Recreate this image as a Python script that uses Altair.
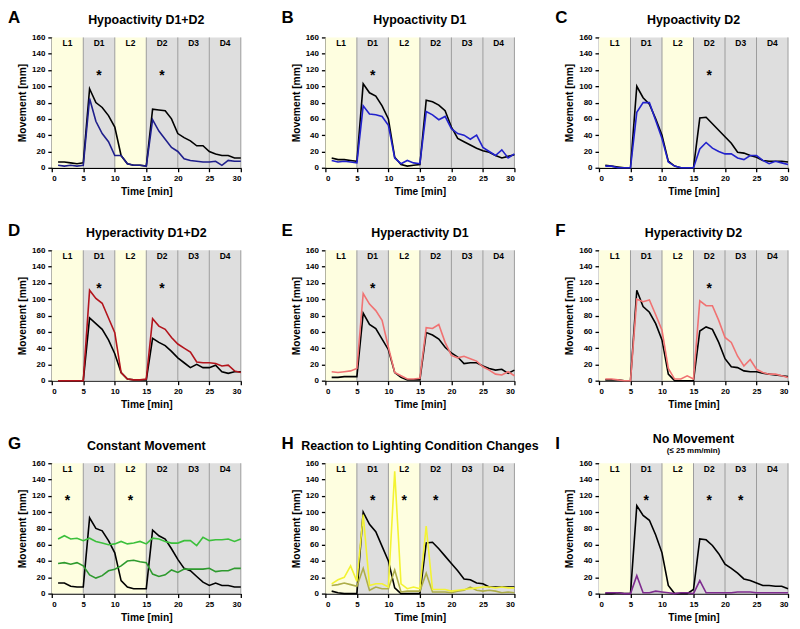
import altair as alt
import pandas as pd

FONT = "Liberation Sans"
W, H = 190, 131

minutes = [1, 2, 3, 4, 5, 6, 7, 8, 9, 10, 11, 12, 13, 14, 15,
           16, 17, 18, 19, 20, 21, 22, 23, 24, 25, 26, 27, 28, 29, 30]

band_start = [0, 5, 10, 15, 20, 25]
band_end = [5, 10, 15, 20, 25, 30]
band_label = ["L1", "D1", "L2", "D2", "D3", "D4"]
band_kind = ["light", "dark", "light", "dark", "dark", "dark"]
separators = [5, 10, 15, 20, 25, 30]
x_ticks = [0, 5, 10, 15, 20, 25, 30]
y_ticks = [0, 20, 40, 60, 80, 100, 120, 140, 160]

A_black = [7, 7, 6, 5, 6, 97, 80, 74, 64, 50, 15, 5, 3, 3, 2, 72, 71, 70, 60, 42, 37, 33, 27, 27, 20, 17, 15, 15, 12, 12]
A_blue = [3, 2, 3, 2, 3, 85, 57, 42, 32, 15, 15, 5, 3, 3, 2, 59, 45, 35, 25, 20, 11, 9, 8, 7, 7, 8, 3, 9, 8, 8]

B_black = [12, 10, 10, 9, 8, 103, 92, 88, 76, 60, 13, 4, 2, 3, 4, 83, 81, 77, 70, 50, 36, 32, 28, 24, 21, 19, 15, 12, 14, 16]
B_blue = [9, 7, 8, 7, 6, 76, 66, 65, 63, 52, 12, 5, 9, 6, 5, 69, 65, 59, 63, 48, 42, 40, 35, 40, 25, 20, 15, 22, 12, 17]

C_black = [3, 2, 1, 0, 0, 100, 86, 78, 60, 40, 8, 2, 0, 0, 0, 61, 62, 54, 46, 38, 30, 19, 18, 15, 13, 9, 8, 8, 8, 7]
C_blue = [2, 2, 0, 0, 0, 68, 80, 80, 58, 36, 7, 2, 0, 0, 0, 23, 31, 24, 20, 17, 17, 12, 10, 15, 15, 9, 5, 8, 6, 4]

D_black = [0, 0, 0, 0, 0, 77, 70, 63, 50, 33, 10, 2, 1, 1, 1, 52, 47, 43, 36, 28, 22, 16, 20, 16, 16, 19, 11, 9, 11, 11]
D_red = [0, 0, 0, 0, 0, 111, 101, 95, 77, 59, 10, 2, 1, 1, 2, 76, 67, 63, 53, 45, 40, 35, 23, 22, 22, 21, 18, 19, 12, 10]

E_black = [4, 4, 5, 5, 5, 83, 69, 64, 51, 38, 10, 4, 1, 1, 1, 59, 56, 51, 41, 34, 29, 21, 22, 22, 18, 15, 13, 14, 9, 13]
E_pink = [11, 10, 11, 12, 15, 107, 94, 86, 74, 41, 10, 6, 2, 2, 3, 65, 64, 69, 47, 31, 28, 30, 27, 24, 17, 13, 8, 7, 11, 6]

F_black = [1, 1, 1, 0, 0, 111, 91, 84, 70, 50, 8, 0, 0, 0, 0, 61, 66, 63, 47, 27, 17, 16, 12, 11, 11, 9, 8, 7, 6, 5]
F_pink = [2, 2, 1, 0, 0, 100, 97, 99, 81, 62, 15, 2, 2, 6, 2, 98, 92, 92, 74, 53, 47, 30, 18, 26, 14, 10, 8, 8, 6, 4]

G_black = [13, 13, 9, 8, 8, 93, 80, 77, 65, 50, 16, 8, 6, 6, 6, 78, 71, 67, 55, 42, 31, 28, 21, 14, 10, 13, 10, 10, 8, 8]
G_green_hi = [67, 71, 67, 68, 65, 68, 64, 62, 60, 61, 64, 61, 62, 64, 61, 68, 67, 64, 62, 62, 65, 65, 59, 69, 65, 66, 66, 67, 64, 67]
G_green_lo = [37, 38, 36, 38, 34, 23, 19, 22, 28, 30, 34, 40, 41, 39, 38, 24, 21, 23, 29, 26, 30, 30, 30, 30, 31, 27, 28, 28, 31, 31]

H_black = [3, 1, 0, 0, 0, 100, 85, 76, 58, 40, 7, 0, 0, 0, 0, 62, 63, 55, 46, 37, 28, 18, 17, 13, 12, 8, 8, 8, 8, 8]
H_yellow = [12, 17, 20, 34, 15, 97, 10, 12, 12, 8, 150, 12, 6, 8, 6, 83, 5, 5, 5, 3, 4, 5, 6, 7, 8, 8, 7, 8, 7, 7]
H_olive = [10, 11, 13, 11, 9, 31, 4, 8, 6, 6, 29, 2, 3, 3, 3, 25, 2, 2, 2, 1, 3, 4, 8, 4, 3, 4, 3, 1, 2, 1]

I_black = [0, 0, 1, 0, 0, 108, 96, 90, 72, 50, 10, 0, 0, 0, 5, 67, 66, 59, 49, 36, 31, 25, 18, 16, 13, 10, 10, 9, 9, 6]
I_purple = [1, 1, 1, 0, 0, 22, 1, 1, 3, 2, 1, 0, 1, 1, 0, 16, 1, 1, 1, 1, 1, 2, 2, 2, 1, 1, 1, 1, 1, 1]

panels = [
    dict(letter="A", title="Hypoactivity D1+D2", stars=[7.5, 17.5],
         series=[(A_black, "#000000"), (A_blue, "#1f1f8c")]),
    dict(letter="B", title="Hypoactivity D1", stars=[7.5],
         series=[(B_black, "#000000"), (B_blue, "#2222cc")]),
    dict(letter="C", title="Hypoactivity D2", stars=[17.5],
         series=[(C_black, "#000000"), (C_blue, "#2222cc")]),
    dict(letter="D", title="Hyperactivity D1+D2", stars=[7.5, 17.5],
         series=[(D_black, "#000000"), (D_red, "#b3141c")]),
    dict(letter="E", title="Hyperactivity D1", stars=[7.5],
         series=[(E_black, "#000000"), (E_pink, "#f07272")]),
    dict(letter="F", title="Hyperactivity D2", stars=[17.5],
         series=[(F_black, "#000000"), (F_pink, "#f07272")]),
    dict(letter="G", title="Constant Movement", stars=[2.5, 12.5],
         series=[(G_black, "#000000"), (G_green_hi, "#3cc03c"), (G_green_lo, "#2e9a2e")]),
    dict(letter="H", title="Reaction to Lighting Condition Changes", stars=[7.5, 12.5, 17.5],
         series=[(H_black, "#000000"), (H_olive, "#aeae4a"), (H_yellow, "#f3f332")]),
    dict(letter="I", title="No Movement", subtitle="(\u2264 25 mm/min)", stars=[7.5, 17.5, 22.5],
         series=[(I_black, "#000000"), (I_purple, "#7e2b8f")]),
]

xscale = alt.Scale(domain=[0, 30], nice=False, zero=False)
yscale = alt.Scale(domain=[0, 160], nice=False)
xaxis = alt.Axis(values=x_ticks, title="Time [min]")
yaxis = alt.Axis(values=y_ticks, title="Movement [mm]")

bands = pd.DataFrame({"start": band_start, "end": band_end,
                      "label": band_label, "kind": band_kind})
seps = pd.DataFrame({"b": separators})


def one_row(text):
    return pd.DataFrame({"t": [text]})


def make_panel(p):
    layers = []
    for kind, col in [("light", "#fefee0"), ("dark", "#dedede")]:
        layers.append(
            alt.Chart(bands).transform_filter(alt.datum.kind == kind)
            .mark_rect(color=col)
            .encode(x=alt.X("start:Q", scale=xscale, axis=xaxis), x2="end:Q",
                    y=alt.value(0), y2=alt.value(H))
        )
    layers.append(
        alt.Chart(seps).mark_rule(color="#9c9c9c", strokeWidth=1)
        .encode(x=alt.X("b:Q", scale=xscale, axis=xaxis))
    )
    layers.append(
        alt.Chart(bands).transform_calculate(mid="(datum.start + datum.end) / 2")
        .mark_text(fontSize=8.5, fontWeight="bold", baseline="middle", font=FONT, color="black")
        .encode(x=alt.X("mid:Q", scale=xscale, axis=xaxis), y=alt.value(6), text="label:N")
    )
    stars = pd.DataFrame({"sx": p["stars"], "sy": [118] * len(p["stars"])})
    layers.append(
        alt.Chart(stars).mark_text(text="*", fontSize=14, fontWeight="bold",
                                   baseline="alphabetic", dy=8, font=FONT, color="black")
        .encode(x=alt.X("sx:Q", scale=xscale, axis=xaxis),
                y=alt.Y("sy:Q", scale=yscale, axis=yaxis))
    )
    for vals, col in p["series"]:
        df = pd.DataFrame({"min": minutes, "v": vals})
        layers.append(
            alt.Chart(df).mark_line(color=col, strokeWidth=1.6)
            .encode(x=alt.X("min:Q", scale=xscale, axis=xaxis),
                    y=alt.Y("v:Q", scale=yscale, axis=yaxis))
        )
    title_y = -17
    if "subtitle" in p:
        title_y = -24
        layers.append(
            alt.Chart(one_row(p["subtitle"]))
            .mark_text(fontSize=8, fontWeight="bold", align="center", baseline="middle",
                       font=FONT, color="black")
            .encode(x=alt.value(W / 2), y=alt.value(-12), text="t:N")
        )
    layers.append(
        alt.Chart(one_row(p["title"]))
        .mark_text(fontSize=12.5, fontWeight="bold", align="center", baseline="middle",
                   font=FONT, color="black")
        .encode(x=alt.value(W / 2), y=alt.value(title_y), text="t:N")
    )
    layers.append(
        alt.Chart(one_row(p["letter"]))
        .mark_text(fontSize=17, fontWeight="bold", align="left", baseline="top",
                   font=FONT, color="black")
        .encode(x=alt.value(-44), y=alt.value(-27), text="t:N")
    )
    return alt.layer(*layers).properties(width=W, height=H)


chart = alt.concat(
    *[make_panel(p) for p in panels],
    columns=3,
    spacing={"row": 83, "column": 85},
    bounds="flush",
).properties(padding=0).configure_view(stroke=None).configure_axis(
    labelFont=FONT, titleFont=FONT,
    labelFontWeight="bold", titleFontWeight="bold",
    labelFontSize=8, titleFontSize=10.3,
    labelColor="black", titleColor="black",
    domainColor="black", domainWidth=1.3,
    tickColor="black", tickWidth=1.3, tickSize=4,
    labelPadding=3, titlePadding=4, grid=False,
)

chart.save("out.html", embed_options={"renderer": "svg", "actions": False})
